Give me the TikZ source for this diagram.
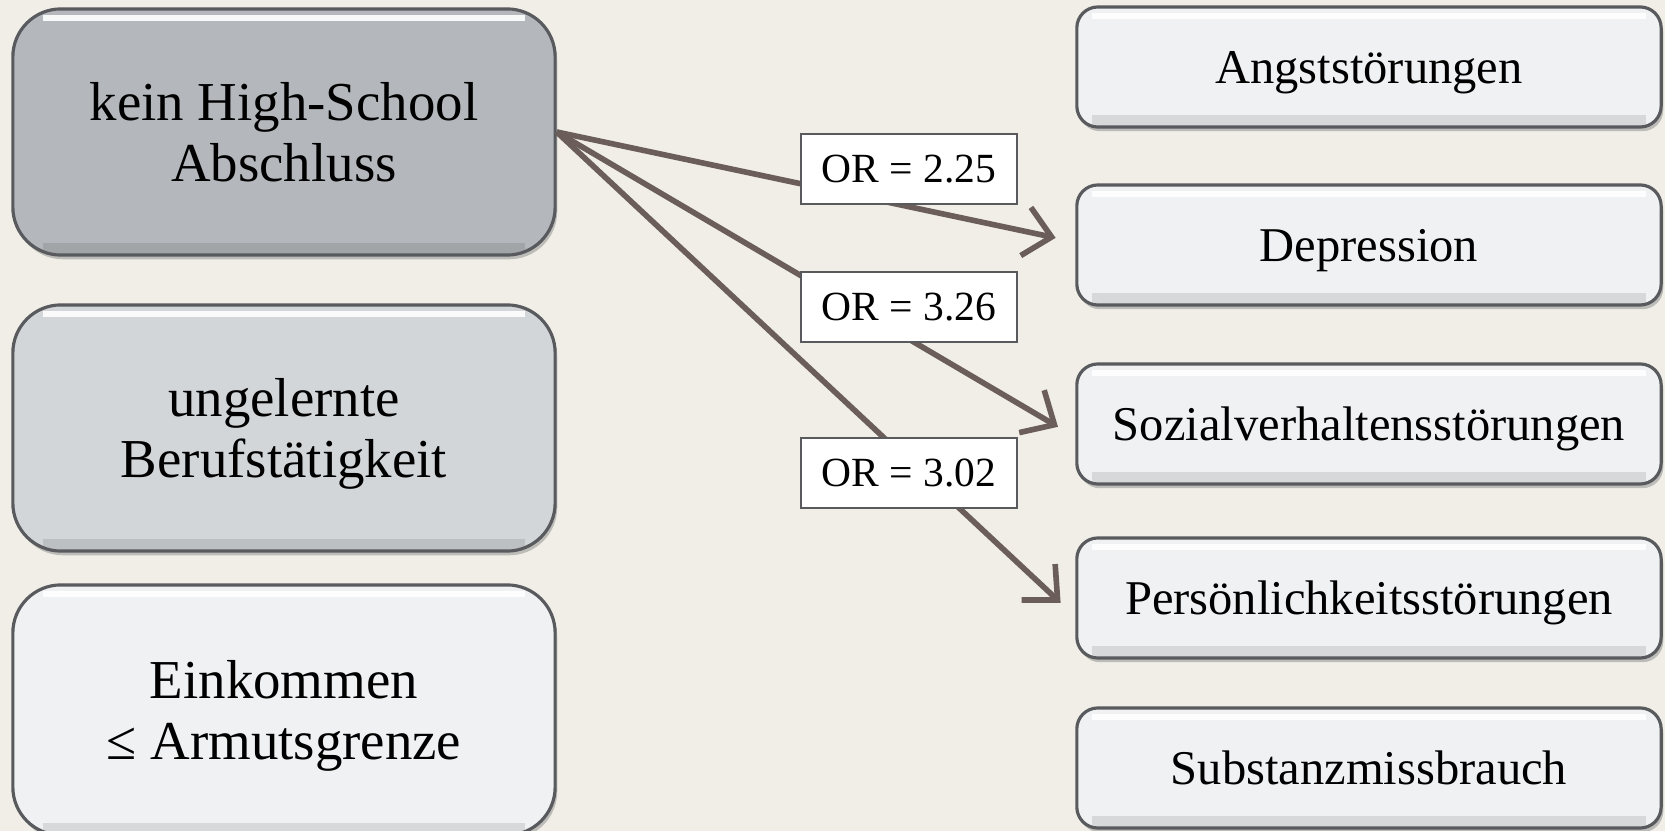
\documentclass[tikz,border=0pt]{standalone}
\usepackage{fontspec}
\setmainfont{Liberation Serif}
\usetikzlibrary{arrows.meta,shadows}

\definecolor{fond}{RGB}{240,238,231}
\definecolor{grisfonce}{RGB}{180,184,188}
\definecolor{grismoyen}{RGB}{211,214,217}
\definecolor{grisclair}{RGB}{240,241,242}
\definecolor{bord}{RGB}{88,90,94}
\definecolor{fleche}{RGB}{107,94,90}

\tikzset{
  bouton/.style={draw=bord, line width=0.9pt, align=center, inner sep=0pt,
    text depth=0pt,
    drop shadow={shadow xshift=0.6pt, shadow yshift=-1.2pt, opacity=0.45},
    path picture={
      \draw[white, line width=1.8pt, opacity=0.9]
        ([xshift=#1, yshift=-2.6pt]path picture bounding box.north west)
        -- ([xshift=-#1, yshift=-2.6pt]path picture bounding box.north east);
      \draw[black, line width=3pt, opacity=0.1]
        ([xshift=#1, yshift=1.8pt]path picture bounding box.south west)
        -- ([xshift=-#1, yshift=1.8pt]path picture bounding box.south east);}},
  facteur/.style={bouton=0.3cm, fill=#1, rounded corners=0.48cm,
    minimum width=5.42cm, minimum height=2.46cm,
    font=\fontsize{15.6}{17.5}\selectfont},
  trouble/.style={bouton=0.15cm, fill=grisclair, rounded corners=0.21cm,
    minimum width=5.84cm, minimum height=1.2cm,
    font=\fontsize{13.8}{16}\selectfont},
  rapport/.style={draw=bord, fill=white, line width=0.6pt,
    minimum width=2.15cm, minimum height=0.7cm,
    font=\fontsize{11.8}{14}\selectfont},
  lien/.style={draw=fleche, line width=1.6pt,
    -{Straight Barb[length=7.5pt,width=14pt]}, shorten >=0.2cm}
}

\begin{document}
\begin{tikzpicture}[x=0.01cm, y=-0.01cm]
\useasboundingbox (0,0) rectangle (1665,831);
\fill[fond] (0,0) rectangle (1665,831);
%\draw[help lines, step=100] (0,0) grid (1665,831);
\node[facteur=grisfonce] (hs) at (284,132) {kein High-School\\Abschluss};
\node[facteur=grismoyen] (bf) at (284,428) {ungelernte\\Berufstätigkeit};
\node[facteur=grisclair, minimum height=2.5cm] (ek) at (284,710) {Einkommen\\≤ Armutsgrenze};
\node[trouble] (ang) at (1369,67) {Angststörungen};
\node[trouble] (dep) at (1369,245) {Depression};
\node[trouble] (soz) at (1369,424) {Sozialverhaltensstörungen};
\node[trouble] (per) at (1369,598) {Persönlichkeitsstörungen};
\node[trouble] (sub) at (1369,768) {Substanzmissbrauch};
\draw[lien] (hs.east) -- ([yshift=0.03cm]dep.west);
\draw[lien] (hs.east) -- ([yshift=-0.13cm]soz.west);
\draw[lien] (hs.east) -- ([yshift=-0.185cm]per.west);
\node[rapport] (r1) at (909,169) {OR = 2.25};
\node[rapport] (r2) at (909,307) {OR = 3.26};
\node[rapport] (r3) at (909,473) {OR = 3.02};
\end{tikzpicture}
\end{document}
